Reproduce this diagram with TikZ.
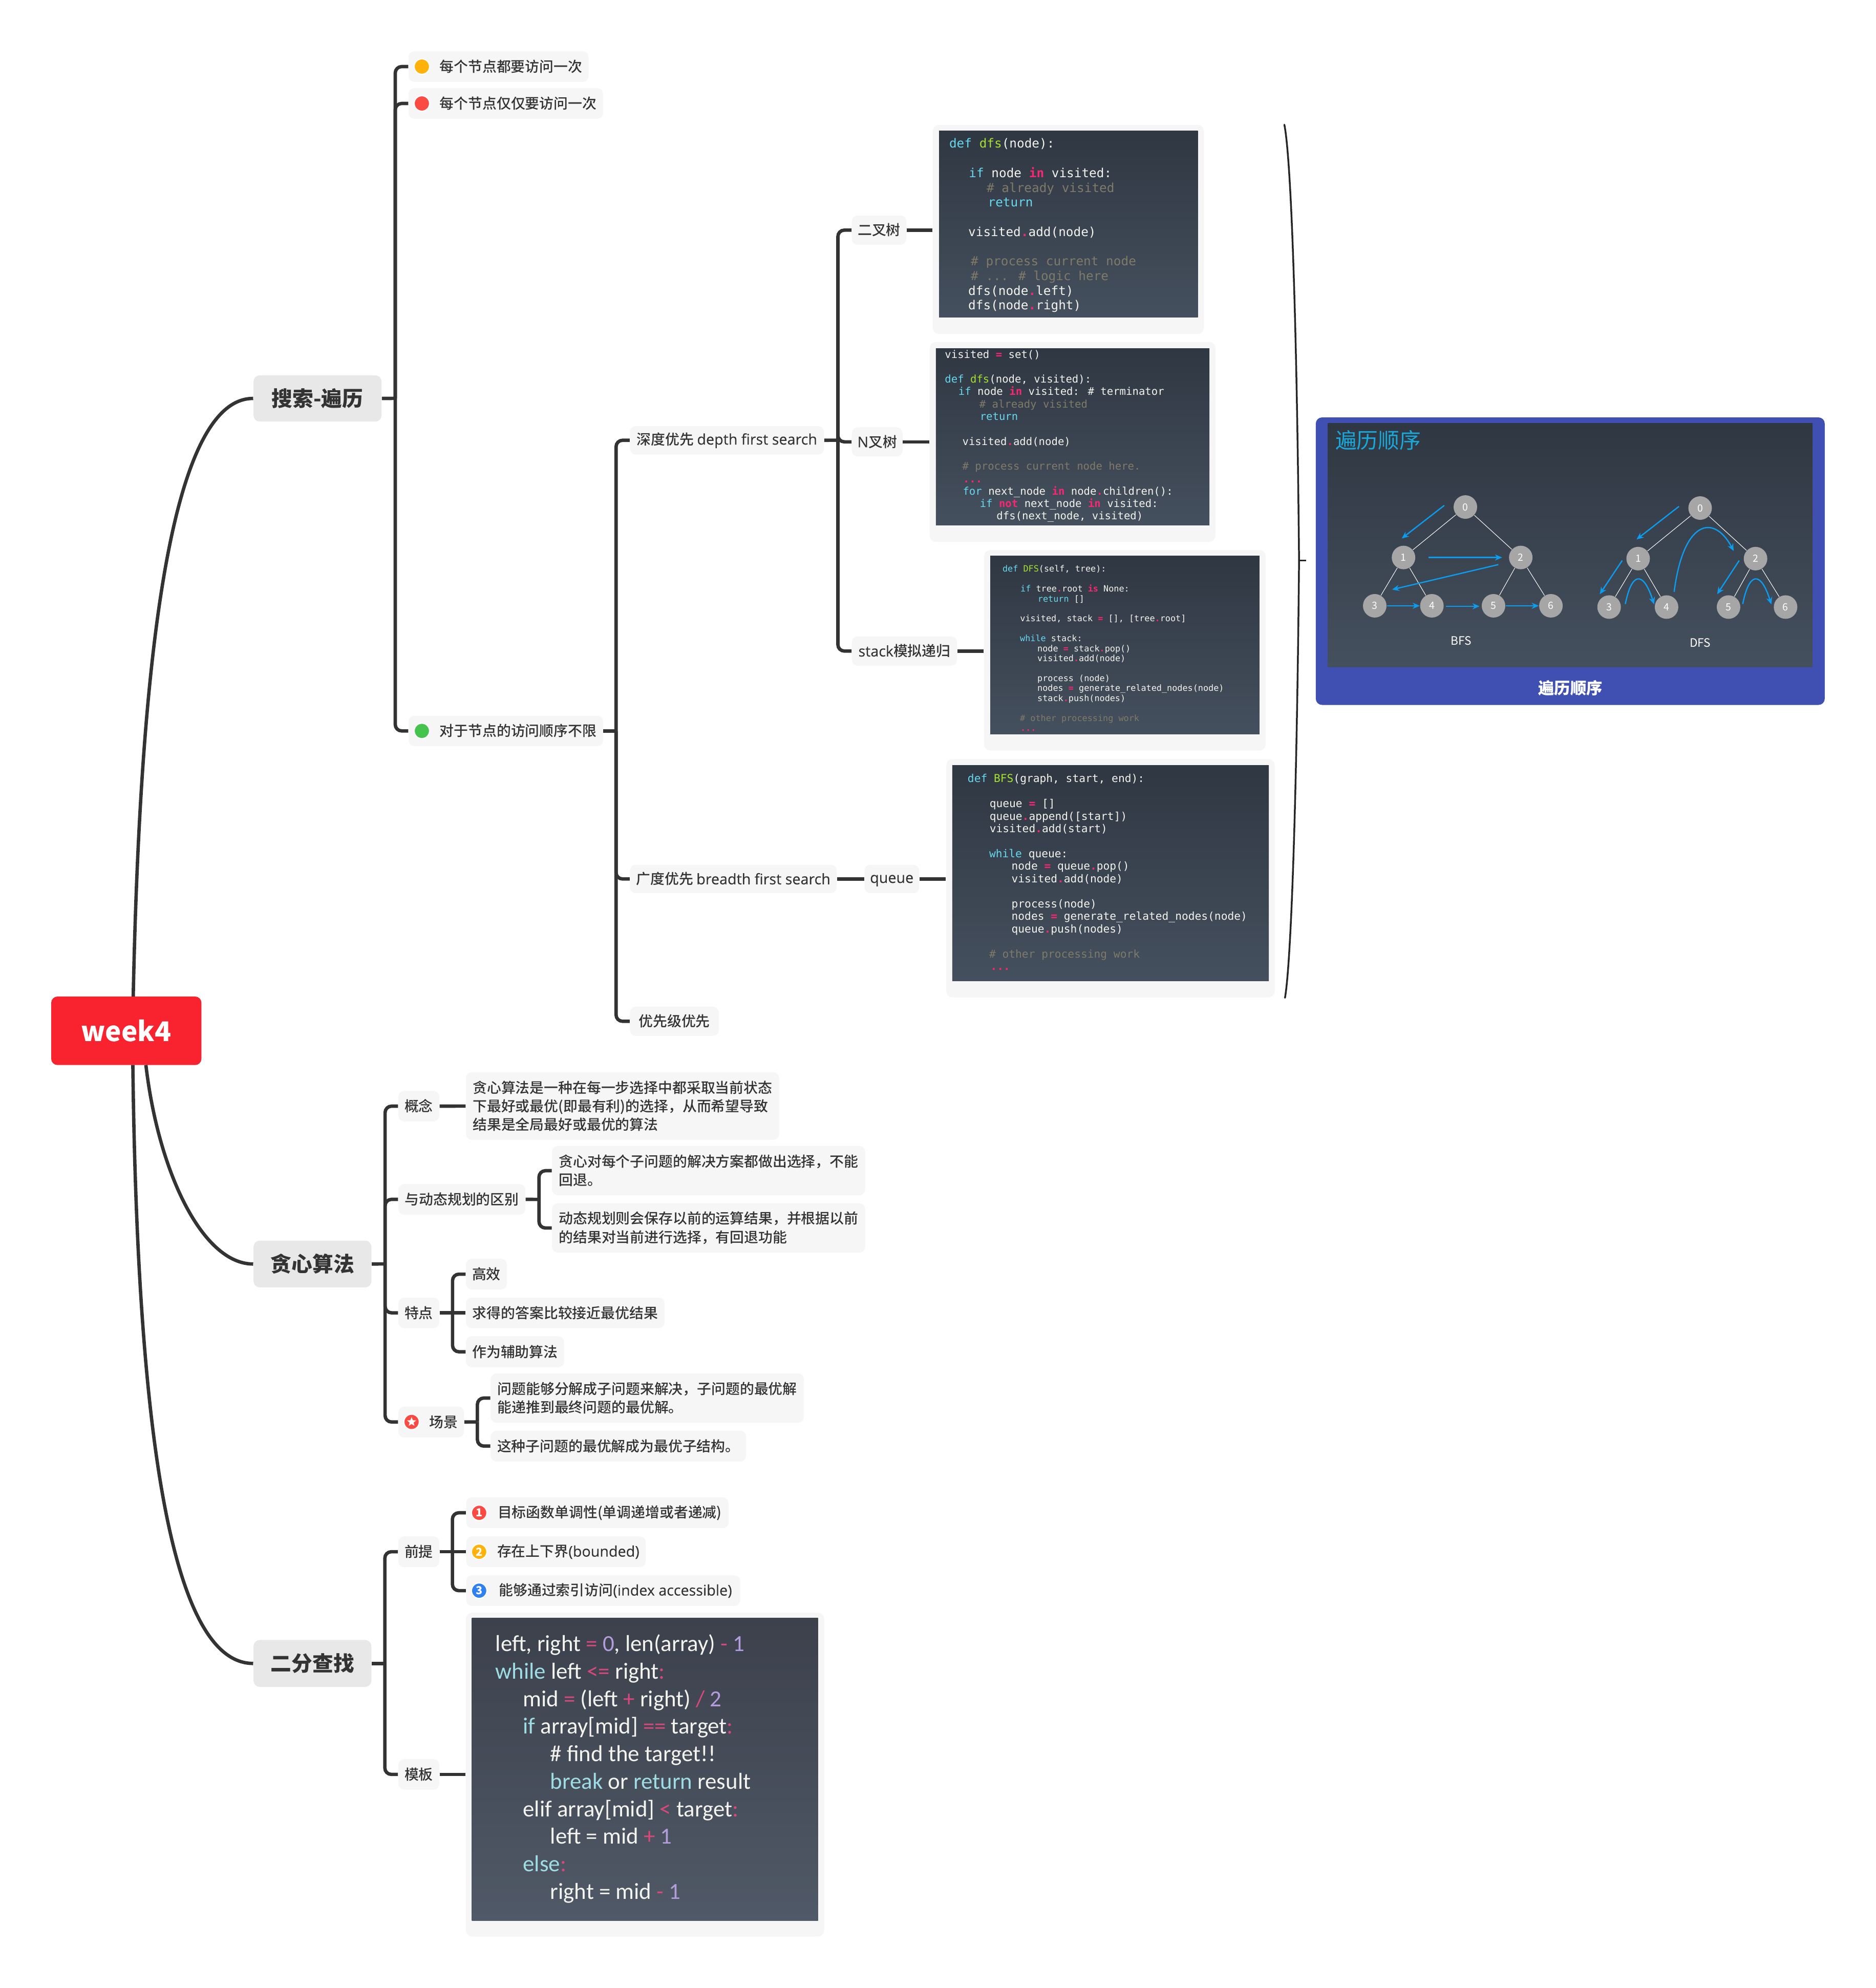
\documentclass[tikz,border=0pt]{standalone}
\usepackage{fontspec}
\setmainfont{Noto Sans CJK SC}
\newfontfamily\cjkmed{Noto Sans CJK SC Medium}
\newfontfamily\leaffont{Noto Sans CJK SC Medium}
\newfontfamily\lat[Scale=1.03,FakeBold=0.2]{Open Sans}
\newfontfamily\cmono{DejaVu Sans Mono}
\newfontfamily\carl{Carlito}
\usetikzlibrary{arrows.meta,shapes.geometric}
\definecolor{ink}{HTML}{333333}
\definecolor{leafgray}{HTML}{F6F6F6}
\definecolor{majgray}{HTML}{E8E8E8}
\definecolor{rootred}{HTML}{F9232F}
\definecolor{imgtop}{HTML}{2F3742}
\definecolor{imgbot}{HTML}{45505E}
\definecolor{tpltop}{HTML}{3C414C}
\definecolor{tplbot}{HTML}{505967}
\definecolor{mkw}{HTML}{66D9EF}
\definecolor{mfn}{HTML}{A6E22E}
\definecolor{mop}{HTML}{F92672}
\definecolor{mcm}{HTML}{7F7B68}
\definecolor{mtx}{HTML}{F4F4EE}
\definecolor{tkw}{HTML}{9EDDE3}
\definecolor{top}{HTML}{D9487A}
\definecolor{tnm}{HTML}{B39DDB}
\definecolor{panel}{HTML}{3F50B2}
\definecolor{arrowblue}{HTML}{0B9DF0}
\definecolor{titleblue}{HTML}{1AA7DA}
\definecolor{treegray}{HTML}{A6A6A6}
\definecolor{iconorange}{HTML}{FFB30A}
\definecolor{iconred}{HTML}{FB4A42}
\definecolor{icongreen}{HTML}{46C34C}
\definecolor{iconblue}{HTML}{2F80F0}
\newcommand\kw[1]{\textcolor{mkw}{#1}}
\newcommand\fn[1]{\textcolor{mfn}{#1}}
\newcommand\op[1]{\textcolor{mop}{\bfseries #1}}
\newcommand\cm[1]{\textcolor{mcm}{#1}}
\newcommand\tk[1]{\textcolor{tkw}{#1}}
\newcommand\tp[1]{\textcolor{top}{#1}}
\newcommand\tn[1]{\textcolor{tnm}{#1}}
\newcommand\ind[1]{\hspace*{#1\dimexpr0.7113pt\relax}}
\newcommand\bl{\mbox{}\\}
\newcommand\pad{\hspace*{13.8pt}}
\newcommand\bx[7]{\node[#1, minimum width={(#5-#3)*0.025cm}, minimum height={(#6-#4)*0.025cm}] (#2) at ({(#3+#5)/2},{(#4+#6)/2}) {#7};}
\tikzset{
  leaf/.style={fill=leafgray, rounded corners=3.2pt, inner sep=0pt, text=ink, align=left, font=\leaffont\fontsize{8}{10.45}\selectfont},
  major/.style={fill=majgray, rounded corners=3.5pt, inner sep=0pt, text=ink, font=\bfseries\fontsize{11.7}{14}\selectfont},
  outerimg/.style={fill=leafgray, rounded corners=3.5pt, inner sep=0pt},
  darkimg/.style={top color=imgtop, bottom color=imgbot, inner sep=0pt},
  tplimg/.style={top color=tpltop, bottom color=tplbot, inner sep=0pt},
  conn/.style={draw=ink, line width=1.9pt},
  corner/.style={conn, rounded corners=3.6pt},
  code/.style={anchor=north west, inner sep=0pt, align=left, text=mtx},
  icon/.style={circle, draw=white, line width=0.6pt, inner sep=0pt, minimum size=8.6pt, text=white, font=\bfseries\fontsize{6.2}{6.2}\selectfont},
  treenode/.style={circle, fill=treegray, inner sep=0pt, minimum size=13.2pt, text=white, font=\fontsize{5.6}{6}\selectfont},
  tedge/.style={draw=white, line width=0.3pt},
  flow/.style={draw=arrowblue, line width=0.7pt, -{Stealth[length=4pt,width=3.4pt]}},
  treelabel/.style={text=white, inner sep=0pt, font=\fontsize{6.5}{7}\selectfont}
}
\begin{document}
\begin{tikzpicture}[x=0.025cm,y=-0.025cm]
\useasboundingbox (0,0) rectangle (1479.9,1568);

% main boxes
\bx{fill=rootred, rounded corners=3.5pt, inner sep=0pt, text=white, font=\bfseries\fontsize{15.2}{18}\selectfont}{root}{40.4}{786}{158.9}{840}{week4}
\bx{major}{search}{200}{296}{301}{332.5}{搜索-遍历}
\bx{major}{greedy}{200}{978.5}{293}{1015.4}{贪心算法}
\bx{major}{bisect}{200}{1293.5}{293}{1330.5}{二分查找}

% root curves
\coordinate (ra) at (105.1,786);
\coordinate (rb) at (115.1,840);
\coordinate (rc) at (104.8,840);
\draw[conn] (ra) .. controls (110,550) and (130,314) .. (search.west);
\draw[conn] (rb) .. controls (125,925) and (160,997) .. (greedy.west);
\draw[conn] (rc) .. controls (108,1100) and (130,1312) .. (bisect.west);

% search branch
\bx{leaf}{s1}{322.4}{40.4}{464.3}{64.6}{\pad 每个节点都要访问一次}
\bx{leaf}{s2}{322.4}{69.5}{475.7}{93.7}{\pad 每个节点仅仅要访问一次}
\bx{leaf}{s3}{322.4}{564.5}{475.7}{588.5}{\pad 对于节点的访问顺序不限}
\node[icon, fill=iconorange] (i1) at (332.8,52.5) {};
\node[icon, fill=iconred] (i2) at (332.8,81.6) {};
\node[icon, fill=icongreen] (i3) at (332.8,576.5) {};
\coordinate (sa) at (311.8,314.2);
\draw[conn] (search.east) -- (sa);
\draw[corner] (sa) |- (s1.west);
\draw[corner] (sa) |- (s2.west);
\draw[corner] (sa) |- (s3.west);

\bx{leaf}{dfs}{497}{336}{650}{358.5}{深度优先 {\lat depth first search}}
\bx{leaf}{bfs}{497}{682}{660}{704.5}{广度优先 {\lat breadth first search}}
\bx{leaf}{prio}{497}{794}{567}{817}{优先级优先}
\coordinate (sb) at (486,576.5);
\draw[conn] (s3.east) -- (sb);
\draw[corner] (sb) |- (dfs.west);
\draw[corner] (sb) |- (bfs.west);
\draw[corner] (sb) |- (prio.west);

\bx{leaf}{bt}{672}{170}{715}{193}{二叉树}
\bx{leaf}{nt}{672}{337}{712}{360}{{\lat N}叉树}
\bx{leaf}{st}{672}{502}{755}{525}{{\lat stack}模拟递归}
\bx{leaf}{qu}{682}{682}{725}{704.5}{\vphantom{国}{\lat queue}}
\coordinate (sc) at (661,347.2);
\draw[conn] (dfs.east) -- (sc);
\draw[corner] (sc) |- (bt.west);
\draw[corner] (sc) |- (nt.west);
\draw[corner] (sc) |- (st.west);
\draw[conn] (bfs.east) -- (qu.west);

% code images
\bx{outerimg}{o1}{735.9}{98.5}{949.8}{263.4}{}
\bx{darkimg}{d1}{740.8}{103.3}{945}{250.4}{}
\node[code, font=\cmono\fontsize{7}{8.25}\selectfont] (c1) at (748.6,108.3) {%
\strut\kw{def} \fn{dfs}(node):\\
\bl
\ind{15.5}\kw{if} node \op{in} visited:\\
\ind{29.5}\cm{\# already visited}\\
\ind{30.5}\kw{return}\\
\bl
\ind{15}visited\op{.}add(node)\\
\bl
\ind{17}\cm{\# process current node}\\
\ind{17}\cm{\# ... \# logic here}\\
\ind{15}dfs(node\op{.}left)\\
\ind{15}dfs(node\op{.}right)};

\bx{outerimg}{o2}{733.4}{269.7}{958.8}{427.4}{}
\bx{darkimg}{d2}{738.3}{274.8}{954.1}{414.4}{}
\node[code, font=\cmono\fontsize{5.93}{6.98}\selectfont] (c2) at (745.1,275.2) {%
\strut visited \op{=} set()\\
\bl
\kw{def} \fn{dfs}(node, visited):\\
\ind{10.7}\kw{if} node \op{in} visited: \# terminator\\
\ind{27.2}\cm{\# already visited}\\
\ind{27.6}\kw{return}\\
\bl
\ind{13.8}visited\op{.}add(node)\\
\bl
\ind{13.8}\cm{\# process current node here.}\\
\ind{14.4}\op{...}\\
\ind{14.2}\kw{for} next\_node \op{in} node\op{.}children():\\
\ind{27.6}\kw{if} \op{not} next\_node \op{in} visited:\\
\ind{40.8}dfs(next\_node, visited)};

\bx{outerimg}{o3}{776.3}{433.8}{998.5}{592}{}
\bx{darkimg}{d3}{781.2}{438.6}{993.6}{579.2}{}
\node[code, font=\cmono\fontsize{4.83}{5.58}\selectfont] (c3) at (790.6,445.3) {%
\strut\kw{def} \fn{DFS}(self, tree):\\
\bl
\ind{14.2}\kw{if} tree\op{.}root \op{is} None:\\
\ind{27.8}\kw{return} []\\
\bl
\ind{13.9}visited, stack \op{=} [], [tree\op{.}root]\\
\bl
\ind{13.8}\kw{while} stack:\\
\ind{27.5}node \op{=} stack\op{.}pop()\\
\ind{27.5}visited\op{.}add(node)\\
\bl
\ind{27.5}process (node)\\
\ind{27.5}nodes \op{=} generate\_related\_nodes(node)\\
\ind{27.5}stack\op{.}push(nodes)\\
\bl
\ind{13.8}\cm{\# other processing work}\\
\ind{14.2}\op{...}};

\bx{outerimg}{o4}{746.5}{598.7}{1005.6}{786.7}{}
\bx{darkimg}{d4}{751.2}{603.5}{1000.9}{773.8}{}
\node[code, font=\cmono\fontsize{6.1}{7.03}\selectfont] (c4) at (763.1,609.8) {%
\strut\kw{def} \fn{BFS}(graph, start, end):\\
\bl
\ind{17.3}queue \op{=} []\\
\ind{17.3}queue\op{.}append([start])\\
\ind{17.3}visited\op{.}add(start)\\
\bl
\ind{17}\kw{while} queue:\\
\ind{34.6}node \op{=} queue\op{.}pop()\\
\ind{34.6}visited\op{.}add(node)\\
\bl
\ind{34.6}process(node)\\
\ind{34.6}nodes \op{=} generate\_related\_nodes(node)\\
\ind{34.6}queue\op{.}push(nodes)\\
\bl
\ind{17}\cm{\# other processing work}\\
\ind{18}\op{...}};

\draw[conn] (bt.east) -- (bt.east -| o1.west);
\draw[conn] (nt.east) -- (nt.east -| o2.west);
\draw[conn] (st.east) -- (st.east -| o3.west);
\draw[conn] (qu.east) -- (qu.east -| o4.west);

% brace
\coordinate (bt1) at (1013.2,98.3);
\coordinate (bt2) at (1024.8,442);
\coordinate (bt3) at (1013.7,787);
\coordinate (bt4) at (1030.5,442);
\draw[draw=black!85, line width=1pt, line cap=round] (bt1) .. controls (1018.5,125) and (1023,250) .. (bt2) .. controls (1023,634) and (1018.5,759) .. (bt3);
\draw[draw=black!85, line width=1pt] (bt2) -- (bt4);

% panel
\bx{fill=panel, rounded corners=3.5pt, inner sep=0pt}{pan}{1038}{329.2}{1439.5}{556}{}
\bx{darkimg}{d5}{1047.6}{333.9}{1429.9}{526.2}{}
\node[inner sep=0pt, text=white, font=\bfseries\fontsize{9}{10}\selectfont] (cap) at (1238.8,542.7) {遍历顺序};
\node[inner sep=0pt, text=titleblue, font=\fontsize{12}{13}\selectfont] (ptitle) at (1087.2,347) {遍历顺序};

\node[treenode] (b0) at (1156,399.9) {0};
\node[treenode] (b1) at (1107.2,439.7) {1};
\node[treenode] (b2) at (1199.7,439.7) {2};
\node[treenode] (b3) at (1084.5,477.8) {3};
\node[treenode] (b4) at (1129.6,477.8) {4};
\node[treenode] (b5) at (1178.2,477.8) {5};
\node[treenode] (b6) at (1223.5,477.8) {6};
\draw[tedge] (b0) -- (b1); \draw[tedge] (b0) -- (b2);
\draw[tedge] (b1) -- (b3); \draw[tedge] (b1) -- (b4);
\draw[tedge] (b2) -- (b5); \draw[tedge] (b2) -- (b6);
\coordinate (fa1) at (1139.4,398.6); \coordinate (fa2) at (1105.8,424.7);
\coordinate (fb1) at (1126.8,439.7); \coordinate (fb2) at (1185,439.7);
\coordinate (fc1) at (1182,445.3); \coordinate (fc2) at (1098.2,465);
\draw[flow] (fa1) -- (fa2);
\draw[flow] (fb1) -- (fb2);
\draw[flow] (fc1) -- (fc2);
\draw[flow] (b3) -- (b4);
\draw[flow] (1140.8,478.2) -- (1167.2,478.2);
\draw[flow] (b5) -- (b6);
\node[treelabel] (lb) at (1152.8,505.2) {BFS};

\node[treenode] (e0) at (1341.2,400.7) {0};
\node[treenode] (e1) at (1292.3,440.6) {1};
\node[treenode] (e2) at (1384.9,440.6) {2};
\node[treenode] (e3) at (1269.4,478.8) {3};
\node[treenode] (e4) at (1314.7,478.8) {4};
\node[treenode] (e5) at (1363.6,478.8) {5};
\node[treenode] (e6) at (1408.6,478.8) {6};
\draw[tedge] (e0) -- (e1); \draw[tedge] (e0) -- (e2);
\draw[tedge] (e1) -- (e3); \draw[tedge] (e1) -- (e4);
\draw[tedge] (e2) -- (e5); \draw[tedge] (e2) -- (e6);
\draw[flow] (1324.5,399.4) -- (1291,425.5);
\draw[flow] (1320.7,466.8) .. controls (1328,410) and (1352,405) .. (1367.7,434.6);
\draw[flow] (1279.7,442.1) -- (1262,468.7);
\draw[flow] (1282.2,476.4) .. controls (1287,452) and (1296,449) .. (1304.9,476.7);
\draw[flow] (1372,442.1) -- (1354.6,468.7);
\draw[flow] (1374.8,476.4) .. controls (1379.6,452) and (1388.6,449) .. (1397.4,476.7);
\node[treelabel] (ld) at (1341.2,506.9) {DFS};

% greedy branch
\bx{leaf}{g1}{314.3}{860.4}{346.5}{884.5}{概念}
\bx{leaf}{g1a}{367.6}{845.8}{614.6}{899}{贪心算法是一种在每一步选择中都采取当前状态\\下最好或最优(即最有利)的选择，从而希望导致\\结果是全局最好或最优的算法}
\bx{leaf}{g2}{314.3}{933.9}{414.4}{958}{与动态规划的区别}
\bx{leaf}{g2a}{435.5}{903.9}{682.5}{942.8}{贪心对每个子问题的解决方案都做出选择，不能\\回退。}
\bx{leaf}{g2b}{435.5}{949.1}{682.5}{988}{动态规划则会保存以前的运算结果，并根据以前\\的结果对当前进行选择，有回退功能}
\bx{leaf}{g3}{314.3}{1023.4}{346.5}{1047.5}{特点}
\bx{leaf}{g3a}{367.6}{992.8}{399.8}{1017.1}{高效}
\bx{leaf}{g3b}{367.6}{1023.4}{524.2}{1047.5}{求得的答案比较接近最优结果}
\bx{leaf}{g3c}{367.6}{1054}{445}{1078.4}{作为辅助算法}
\bx{leaf}{g4}{314.3}{1109.4}{366}{1133.7}{\pad 场景}
\bx{leaf}{g4a}{387.1}{1083.2}{634.1}{1122.1}{问题能够分解成子问题来解决，子问题的最优解\\能递推到最终问题的最优解。}
\bx{leaf}{g4b}{387.1}{1128.4}{588.6}{1152.7}{这种子问题的最优解成为最优子结构。}
\node[icon, fill=iconred] (gi) at (324.7,1121.5) {};
\node[star, star points=5, star point ratio=2.3, fill=white, inner sep=0pt, minimum size=5.4pt] (gs) at (324.7,1121.5) {};
\coordinate (ga) at (303.8,996.9);
\draw[conn] (greedy.east) -- (ga);
\draw[corner] (ga) |- (g1.west);
\draw[corner] (ga) |- (g2.west);
\draw[corner] (ga) |- (g3.west);
\draw[corner] (ga) |- (g4.west);
\draw[conn] (g1.east) -- (g1a.west);
\coordinate (gb) at (425.2,946);
\draw[conn] (g2.east) -- (gb);
\draw[corner] (gb) |- (g2a.west);
\draw[corner] (gb) |- (g2b.west);
\coordinate (gc) at (357,1035.5);
\draw[conn] (g3.east) -- (g3b.west);
\draw[corner] (gc) |- (g3a.west);
\draw[corner] (gc) |- (g3c.west);
\coordinate (gd) at (376.6,1121.5);
\draw[conn] (g4.east) -- (gd);
\draw[corner] (gd) |- (g4a.west);
\draw[corner] (gd) |- (g4b.west);

% binary search branch
\bx{leaf}{p1}{314.2}{1211.8}{346.5}{1236}{前提}
\bx{leaf}{p1a}{367.8}{1181}{574.8}{1205.3}{\pad 目标函数单调性(单调递增或者递减)}
\bx{leaf}{p1b}{367.8}{1211.8}{509.4}{1236}{\pad 存在上下界{\lat (bounded)}}
\bx{leaf}{p1c}{367.8}{1242.5}{583.9}{1266.7}{\pad 能够通过索引访问{\lat (index accessible)}}
\node[icon, fill=iconred] (n1) at (378,1193.2) {1};
\node[icon, fill=iconorange] (n2) at (378,1223.9) {2};
\node[icon, fill=iconblue] (n3) at (378,1254.6) {3};
\bx{leaf}{p2}{314.2}{1387.5}{346.5}{1411.5}{模板}
\bx{outerimg}{o6}{367.5}{1272}{650.1}{1527.4}{}
\bx{tplimg}{d6}{372.3}{1276.3}{645.3}{1514.7}{}
\node[code, font=\carl\fontsize{12.9}{15.44}\selectfont] (c6) at (390.6,1287) {%
\strut left, right \tp{=} \tn{0}, len(array) \tp{-} \tn{1}\\
\tk{while} left \tp{<=} right\tp{:}\\
\ind{21.7}mid \tp{=} (left \tp{+} right) \tp{/} \tn{2}\\
\ind{21.7}\tk{if} array[mid] \tp{==} target\tp{:}\\
\ind{43.2}\# find the target!!\\
\ind{43.2}\tk{break} or \tk{return} result\\
\ind{21.7}elif array[mid] \tp{<} target\tp{:}\\
\ind{43.2}left = mid \tp{+} \tn{1}\\
\ind{21.7}\tk{else}\tp{:}\\
\ind{43.2}right = mid \tp{-} \tn{1}};
\coordinate (pa) at (303.6,1312);
\draw[conn] (bisect.east) -- (pa);
\draw[corner] (pa) |- (p1.west);
\draw[corner] (pa) |- (p2.west);
\draw[conn] (p2.east) -- (o6.west |- p2.east);
\coordinate (pb) at (356.9,1223.9);
\draw[conn] (p1.east) -- (p1b.west);
\draw[corner] (pb) |- (p1a.west);
\draw[corner] (pb) |- (p1c.west);
\end{tikzpicture}
\end{document}
